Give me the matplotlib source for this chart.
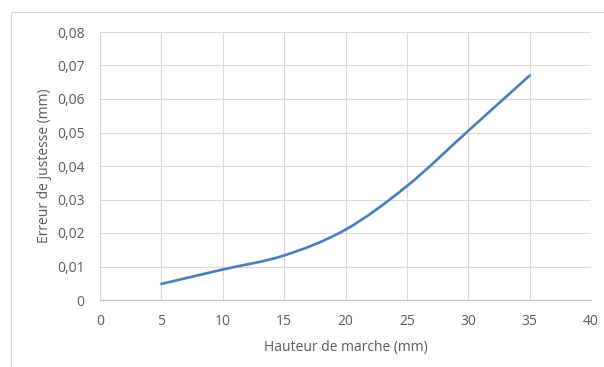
import matplotlib
matplotlib.use("Agg")
from matplotlib import pyplot as plt
from matplotlib.path import Path
from matplotlib.patches import PathPatch, Rectangle
from matplotlib.ticker import FuncFormatter

hauteur = [5, 10, 15, 20, 25, 30, 35]
erreur = [0.0048, 0.0091, 0.0133, 0.0210, 0.0340, 0.0505, 0.0670]

x_ticks = [0, 5, 10, 15, 20, 25, 30, 35, 40]
y_ticks = [0, 0.01, 0.02, 0.03, 0.04, 0.05, 0.06, 0.07, 0.08]

text_col = "#595959"
plt.rcParams['font.family'] = ['Open Sans', 'DejaVu Sans']


def smooth_path(xs, ys):
    # excel-like smoothed line: catmull-rom turned into cubic beziers
    pts = list(zip(xs, ys))
    verts = [pts[0]]
    codes = [Path.MOVETO]
    n = len(pts)
    for i in range(n - 1):
        p0 = pts[i - 1] if i > 0 else pts[i]
        p1 = pts[i]
        p2 = pts[i + 1]
        p3 = pts[i + 2] if i + 2 < n else pts[i + 1]
        c1 = (p1[0] + (p2[0] - p0[0]) / 6, p1[1] + (p2[1] - p0[1]) / 6)
        c2 = (p2[0] - (p3[0] - p1[0]) / 6, p2[1] - (p3[1] - p1[1]) / 6)
        verts += [c1, c2, p2]
        codes += [Path.CURVE4] * 3
    return Path(verts, codes)


fig = plt.figure(figsize=(6.04, 3.67), dpi=100)
ax = fig.add_axes([100 / 604, 1 - 300 / 367, 491 / 604, 268 / 367])

fig.patches.append(Rectangle((11 / 604, -0.1), 1.2, 1 - 12 / 367 + 0.1,
                             transform=fig.transFigure, fill=False,
                             edgecolor="#D9D9D9", linewidth=0.8))

ax.add_patch(PathPatch(smooth_path(hauteur, erreur), fill=False,
                       edgecolor="#4A7EBB", linewidth=1.9,
                       capstyle='round', zorder=3))

ax.set_xlim(0, 40)
ax.set_ylim(0, 0.08)
ax.set_xticks(x_ticks)
ax.set_yticks(y_ticks)
ax.xaxis.set_major_formatter(FuncFormatter(lambda v, p: f"{v:g}"))
ax.yaxis.set_major_formatter(
    FuncFormatter(lambda v, p: "0" if v == 0 else f"{v:.2f}".replace(".", ",")))

ax.grid(True, color="#D9D9D9", linewidth=0.8)
ax.set_axisbelow(True)
for s in ["top", "right", "left"]:
    ax.spines[s].set_visible(False)
ax.spines["bottom"].set_color("#BFBFBF")
ax.spines["bottom"].set_linewidth(0.8)
ax.spines["bottom"].set_zorder(2)

ax.tick_params(length=0, labelsize=10, labelcolor=text_col)
ax.tick_params(axis='y', pad=11)
ax.tick_params(axis='x', pad=10)

ax.set_xlabel("Hauteur de marche (mm)", fontsize=10, color=text_col, labelpad=8)
ax.set_ylabel("Erreur de justesse (mm)", fontsize=10, color=text_col, labelpad=4)

plt.savefig("out.png", dpi=100)
